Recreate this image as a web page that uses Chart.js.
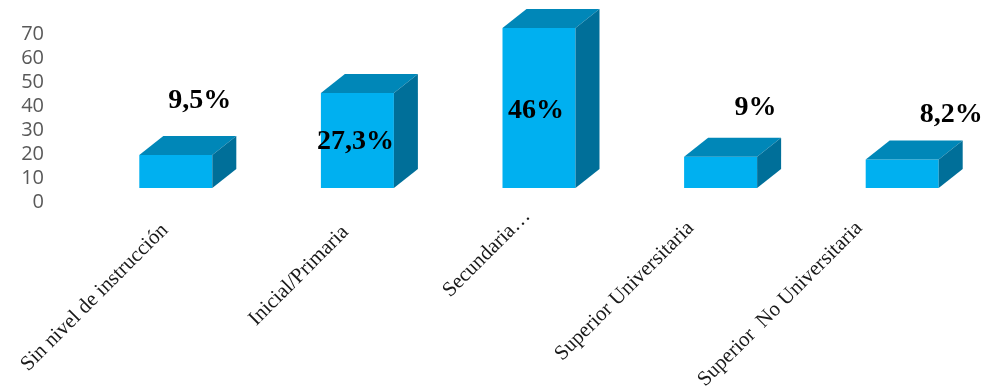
<!DOCTYPE html>
<html lang="es">
<head>
<meta charset="utf-8">
<script src="https://cdn.jsdelivr.net/npm/chart.js@4"></script>
<style>
  html, body { margin: 0; padding: 0; background: #fff; overflow: hidden; }
  canvas { display: block; }
</style>
</head>
<body>
<canvas id="nivelChart" width="994" height="392"></canvas>
<script>
// Nivel de instrucción (%)
const categorias = ['Sin nivel de instrucción', 'Inicial/Primaria', 'Secundaria…', 'Superior Universitaria', 'Superior  No Universitaria'];
const porcentajes = [9.5, 27.3, 46, 9, 8.2];
const ticksEje = [0, 10, 20, 30, 40, 50, 60, 70];

// ajuste fino de cada etiqueta de valor respecto a la cara superior de la barra
const ajusteValor = [[24, -54], [-2, 49], [-3, 83], [35, -49], [49, -45]];
// ajuste fino de cada etiqueta de categoría respecto al centro de la barra
const ajusteCategoria = [[-7, 0], [-8, 2], [-8, -14], [-26, -2], [-39, -2]];

const FONDO = 24, ALTO = 19; // profundidad del efecto 3D

function formatoPct(v) {
    return String(v).replace('.', ',') + '%';
}

// dibuja caras superior y lateral, etiquetas de valor y de categoría
const barras3d = {
    id: 'barras3d',
    afterDatasetsDraw(chart) {
        const ctx = chart.ctx;
        const meta = chart.getDatasetMeta(0);
        ctx.save();
        meta.data.forEach((bar) => {
            const l = bar.x - bar.width / 2;
            const r = bar.x + bar.width / 2;
            ctx.fillStyle = '#0087B8';
            ctx.beginPath();
            ctx.moveTo(l, bar.y);
            ctx.lineTo(r, bar.y);
            ctx.lineTo(r + FONDO, bar.y - ALTO);
            ctx.lineTo(l + FONDO, bar.y - ALTO);
            ctx.closePath();
            ctx.fill();
            ctx.fillStyle = '#006F99';
            ctx.beginPath();
            ctx.moveTo(r, bar.y);
            ctx.lineTo(r + FONDO, bar.y - ALTO);
            ctx.lineTo(r + FONDO, bar.base - ALTO);
            ctx.lineTo(r, bar.base);
            ctx.closePath();
            ctx.fill();
        });

        ctx.fillStyle = '#000';
        ctx.font = 'bold 28px "Liberation Serif", "Times New Roman", serif';
        ctx.textAlign = 'center';
        ctx.textBaseline = 'middle';
        meta.data.forEach((bar, i) => {
            const [dx, dy] = ajusteValor[i];
            ctx.fillText(formatoPct(porcentajes[i]), bar.x + dx, bar.y + dy);
        });

        const xs = chart.scales.x;
        ctx.fillStyle = '#1a1a1a';
        ctx.font = '21px "Liberation Serif", "Times New Roman", serif';
        ctx.textAlign = 'right';
        ctx.textBaseline = 'alphabetic';
        categorias.forEach((c, i) => {
            const [dx, dy] = ajusteCategoria[i];
            ctx.save();
            ctx.translate(xs.getPixelForTick(i) + dx, chart.chartArea.bottom + 21 + dy);
            ctx.rotate(-Math.PI / 4);
            ctx.fillText(c, 0, 0);
            ctx.restore();
        });
        ctx.restore();
    }
};

new Chart(document.getElementById('nivelChart'), {
    type: 'bar',
    data: {
        labels: categorias,
        datasets: [{
            data: porcentajes,
            backgroundColor: '#00B0F0',
            borderWidth: 0,
            barPercentage: 0.402,
            categoryPercentage: 1,
            yAxisID: 'y'
        }]
    },
    options: {
        responsive: false,
        animation: false,
        layout: { padding: { top: 5, right: 1, bottom: 182, left: 0 } },
        plugins: {
            legend: { display: false },
            tooltip: { enabled: false }
        },
        scales: {
            x: { display: false },
            y: {
                display: false,
                min: -6.325,
                max: 52.61
            },
            yEje: {
                position: 'left',
                min: -3.12,
                max: 82.15,
                grid: { display: false, drawTicks: false },
                border: { display: false },
                ticks: {
                    padding: 41,
                    color: '#595959',
                    font: { family: '"Open Sans", sans-serif', size: 20 }
                },
                afterBuildTicks(scale) {
                    scale.ticks = ticksEje.map(v => ({ value: v }));
                },
                afterFit(scale) {
                    scale.width = 85;
                    scale.paddingTop = 0;
                    scale.paddingBottom = 0;
                }
            }
        }
    },
    plugins: [barras3d]
});
</script>
</body>
</html>
